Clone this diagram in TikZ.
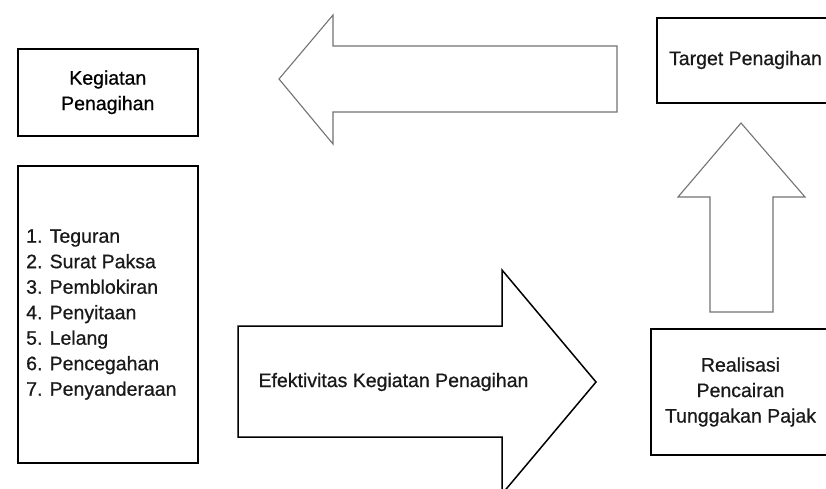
\documentclass[tikz,border=0pt]{standalone}
\usepackage{fontspec}
\setmainfont{Liberation Sans}[FakeBold=0.7]
\begin{document}
\begin{tikzpicture}[x=1pt,y=-1pt,
  box/.style={draw=black, line width=1.6pt, fill=white, inner sep=0pt, font=\fontsize{19.5}{25.5}\selectfont, text=black, align=center},
  txt/.style={inner sep=0pt, font=\fontsize{19.5}{25.5}\selectfont, text=black!90},
  thinarrow/.style={draw=black!55, line width=1.1pt, line join=miter},
  thickarrow/.style={draw=black, line width=1.5pt, line join=miter}]
\useasboundingbox (0,0) rectangle (826,489);
\clip (0,0) rectangle (826,489);
\fill[white] (0,0) rectangle (826,489);
% boxes
\node[box, anchor=north west, minimum width=180pt, minimum height=87pt] (keg) at (17,48) {Kegiatan\\Penagihan};
\node[box, anchor=north west, minimum width=180pt, minimum height=297pt] (list) at (17,165) {};
\node[txt, anchor=west, align=left] (items) at (26,314.5) {1. Teguran\\2. Surat Paksa\\3. Pemblokiran\\4. Penyitaan\\5. Lelang\\6. Pencegahan\\7. Penyanderaan};
\node[box, anchor=north west, minimum width=180pt, minimum height=85pt] (target) at (656,17) {};
\node[txt] (targettxt) at (745.5,60) {Target Penagihan};
\node[box, anchor=north west, minimum width=182pt, minimum height=126pt] (real) at (650,328) {};
\node[txt, align=center] (realtxt) at (740.5,392) {Realisasi\\Pencairan\\Tunggakan Pajak};
% left arrow
\draw[thinarrow] (617,46) -- (333,46) -- (333,15) -- (279,79) -- (333,144) -- (333,112) -- (617,112) -- cycle;
% up arrow
\draw[thinarrow] (710,312) -- (710,197) -- (678,197) -- (741,123) -- (805,197) -- (773,197) -- (773,312) -- cycle;
% right arrow
\draw[thickarrow] (238,326) -- (502,326) -- (502,270) -- (596,382) -- (502,494) -- (502,437) -- (238,437) -- cycle;
\node[txt] (efek) at (393.5,382) {Efektivitas Kegiatan Penagihan};
\end{tikzpicture}
\end{document}
